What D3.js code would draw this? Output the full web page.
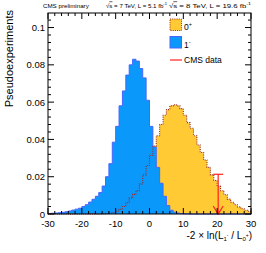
<!DOCTYPE html>
<html lang="en">
<head>
  <meta charset="utf-8">
  <title>Pseudoexperiments</title>
  <script type="text/javascript" src="https://cdn.jsdelivr.net/npm/d3@7"></script>
  <style>
    body { margin: 0; background: #fff; }
    text { font-family: "Liberation Sans", Arial, sans-serif; fill: #000; }
  </style>
</head>
<body>
  <script type="text/javascript">

  // histogram bins: 60 bins of width 1 from -30 to 30
  var xMin = -30, xMax = 30, binWidth = 1;

  // 1- hypothesis (blue)
  var minusOne = [
    0.0003, 0.0004, 0.0005, 0.0007, 0.0009, 0.0012, 0.0016, 0.0021, 0.0026, 0.0031,
    0.0040, 0.0050, 0.0064, 0.0079, 0.0095, 0.0115, 0.0150, 0.0200, 0.0270, 0.0385,
    0.0470, 0.0580, 0.0660, 0.0745, 0.0800, 0.0830, 0.0820, 0.0780, 0.0730, 0.0610,
    0.0470, 0.0360, 0.0250, 0.0165, 0.0095, 0.0045, 0.0020, 0.0010, 0.0005, 0.0002,
    0.0001, 0.0001, 0, 0, 0, 0, 0, 0, 0, 0,
    0, 0, 0, 0, 0, 0, 0, 0, 0, 0
  ];

  // 0+ hypothesis (yellow)
  var zeroPlus = [
    0, 0, 0, 0, 0, 0, 0, 0, 0, 0,
    0, 0, 0, 0, 0, 0, 0.0002, 0.0003, 0.0005, 0.0008,
    0.0015, 0.0025, 0.0040, 0.0060, 0.0085, 0.0105, 0.0125, 0.0160, 0.0210, 0.0260,
    0.0315, 0.0365, 0.0420, 0.0480, 0.0530, 0.0560, 0.0580, 0.0586, 0.0580, 0.0565,
    0.0530, 0.0490, 0.0460, 0.0420, 0.0370, 0.0330, 0.0290, 0.0250, 0.0210, 0.0180,
    0.0150, 0.0125, 0.0103, 0.0080, 0.0063, 0.0050, 0.0038, 0.0028, 0.0020, 0.0015
  ];

  var observed = 20.3;
  var xTicks = [-30, -20, -10, 0, 10, 20, 30];
  var yTicks = [0, 0.02, 0.04, 0.06, 0.08, 0.1];

  var width = 266, height = 253;
  var pLeft = 48, pRight = 251, pTop = 13, pBottom = 214;
  var yMax = 0.1078;

  var x = d3.scaleLinear().domain([xMin, xMax]).range([pLeft, pRight]);
  var y = d3.scaleLinear().domain([0, yMax]).range([pBottom, pTop]);

  var svg = d3.select("body").append("svg")
    .attr("width", width).attr("height", height);

  // step outline of a histogram
  function steps(values) {
    var pts = [[xMin, 0]];
    values.forEach(function(v, i) {
      var x0 = xMin + i * binWidth;
      pts.push([x0, v], [x0 + binWidth, v]);
    });
    pts.push([xMax, 0]);
    return pts;
  }

  var line = d3.line().x(d => x(d[0])).y(d => y(d[1]));
  var area = d3.area().x(d => x(d[0])).y0(y(0)).y1(d => y(d[1]));

  var plot = svg.append("g");
  plot.append("path").attr("d", area(steps(zeroPlus))).attr("fill", "#ffca33");
  plot.append("path").attr("d", area(steps(minusOne))).attr("fill", "#0a98fb");
  plot.append("path").attr("d", line(steps(minusOne)))
    .attr("fill", "none").attr("stroke", "#4a64ff").attr("stroke-width", 1);
  plot.append("path").attr("d", line(steps(zeroPlus)))
    .attr("fill", "none").attr("stroke", "#9a2a2a").attr("stroke-width", 1.1)
    .attr("stroke-dasharray", "1,1.2");

  // observed value arrow
  var obsTop = 0.0213;
  var arr = svg.append("g").attr("stroke", "#ff2020").attr("stroke-width", 1.2).attr("fill", "none");
  arr.append("line").attr("x1", x(observed)).attr("x2", x(observed))
    .attr("y1", y(obsTop)).attr("y2", y(0));
  arr.append("line").attr("x1", x(observed) - 5).attr("x2", x(observed) + 5)
    .attr("y1", y(obsTop)).attr("y2", y(obsTop));
  arr.append("path").attr("d", "M" + (x(observed) - 5) + "," + (y(0) - 8) +
    "L" + x(observed) + "," + y(0) + "L" + (x(observed) + 5) + "," + (y(0) - 8));

  // frame and ROOT-style inward ticks
  var frame = svg.append("g").attr("stroke", "#000").attr("stroke-width", 1);
  frame.append("rect").attr("x", pLeft).attr("y", pTop)
    .attr("width", pRight - pLeft).attr("height", pBottom - pTop).attr("fill", "none");

  d3.range(xMin, xMax + 0.001, 2).forEach(function(v) {
    var len = (v % 10 === 0) ? 6 : 3;
    frame.append("line").attr("x1", x(v)).attr("x2", x(v)).attr("y1", pBottom).attr("y2", pBottom - len);
    frame.append("line").attr("x1", x(v)).attr("x2", x(v)).attr("y1", pTop).attr("y2", pTop + len);
  });
  d3.range(0, yMax, 0.004).forEach(function(v, i) {
    var len = (i % 5 === 0) ? 6 : 3;
    frame.append("line").attr("x1", pLeft).attr("x2", pLeft + len).attr("y1", y(v)).attr("y2", y(v));
    frame.append("line").attr("x1", pRight).attr("x2", pRight - len).attr("y1", y(v)).attr("y2", y(v));
  });

  svg.selectAll(".xt").data(xTicks).enter().append("text")
    .attr("x", d => x(d)).attr("y", pBottom + 13)
    .attr("text-anchor", "middle").attr("font-size", 9.5).text(d => d);

  svg.selectAll(".yt").data(yTicks).enter().append("text")
    .attr("x", pLeft - 3).attr("y", d => y(d) + 3.5)
    .attr("text-anchor", "end").attr("font-size", 9.5).text(d => d3.format("~g")(d));

  // axis titles
  svg.append("text").attr("transform", "translate(13,10) rotate(-90)")
    .attr("text-anchor", "end").attr("font-size", 11).text("Pseudoexperiments");

  var xt = svg.append("text").attr("x", 252).attr("y", 239)
    .attr("text-anchor", "end").attr("font-size", 10);
  xt.append("tspan").text("-2 \u00d7 ln(L");
  xt.append("tspan").attr("font-size", 6).attr("dy", 2).text("1");
  xt.append("tspan").attr("font-size", 5).attr("dy", -4).text("-");
  xt.append("tspan").attr("dy", 2).text(" / L");
  xt.append("tspan").attr("font-size", 6).attr("dy", 2).text("0");
  xt.append("tspan").attr("font-size", 5).attr("dy", -4).text("+");
  xt.append("tspan").attr("dy", 2).text(")");

  // header
  svg.append("text").attr("x", 43).attr("y", 7.5).attr("font-size", 6.2).text("CMS preliminary");
  [["7", "5.1", 106, 167], ["8", "19.6", 169, 251]].forEach(function(h) {
    var t = svg.append("text").attr("x", h[2]).attr("y", 7.5).attr("font-size", 6.2)
      .attr("textLength", h[3] - h[2]).attr("lengthAdjust", "spacingAndGlyphs");
    t.append("tspan").text("\u221a");
    t.append("tspan").style("text-decoration", "overline").text("s");
    t.append("tspan").text(" = " + h[0] + " TeV, L = " + h[1] + " fb");
    t.append("tspan").attr("font-size", 4.2).attr("dy", -2.5).text("-1");
  });

  // legend
  var lg = svg.append("g");
  lg.append("rect").attr("x", 170).attr("y", 19).attr("width", 11.5).attr("height", 11.5)
    .attr("fill", "#ffca33").attr("stroke", "#9a2a2a").attr("stroke-dasharray", "1,1.2");
  lg.append("rect").attr("x", 170).attr("y", 36.5).attr("width", 11.5).attr("height", 11.5)
    .attr("fill", "#0a98fb").attr("stroke", "#4a64ff");
  lg.append("line").attr("x1", 170).attr("x2", 182).attr("y1", 60).attr("y2", 60)
    .attr("stroke", "#ff2020").attr("stroke-width", 1.2);
  var l0 = lg.append("text").attr("x", 184).attr("y", 30).attr("font-size", 8.5).text("0");
  l0.append("tspan").attr("font-size", 5.5).attr("dy", -4).text("+");
  var l1 = lg.append("text").attr("x", 184).attr("y", 47.5).attr("font-size", 8.5).text("1");
  l1.append("tspan").attr("font-size", 5.5).attr("dy", -4).text("-");
  lg.append("text").attr("x", 184).attr("y", 63).attr("font-size", 8.5).text("CMS data");

  </script>
</body>
</html>
